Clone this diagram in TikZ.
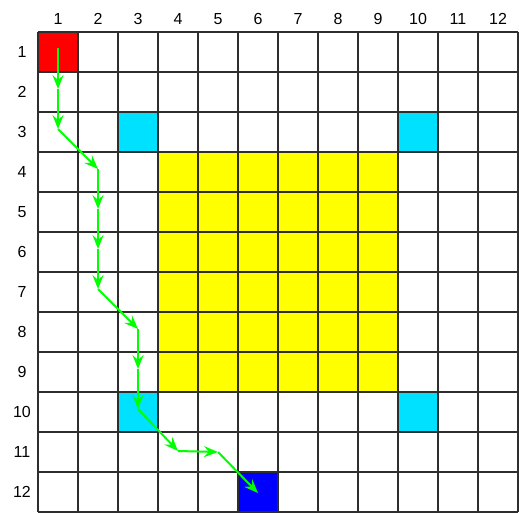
\documentclass[tikz,border=0pt]{standalone}
\usepackage{fontspec}
\setmainfont{Liberation Sans}
\usetikzlibrary{arrows.meta}
\definecolor{cellred}{RGB}{255,0,0}
\definecolor{cellcyan}{RGB}{0,224,255}
\definecolor{cellyellow}{RGB}{255,255,0}
\definecolor{cellblue}{RGB}{0,0,255}
\definecolor{gridgray}{RGB}{45,45,45}
\definecolor{pathgreen}{RGB}{0,255,0}
\tikzset{
  gridline/.style={draw=gridgray, line width=1.2pt},
  lbl/.style={font=\fontsize{16}{16}\selectfont, inner sep=0pt},
  route/.style={draw=pathgreen, line width=2pt, -{Stealth[length=14pt,width=11pt,inset=5pt]}}
}
\begin{document}
\begin{tikzpicture}[x=1pt,y=-1pt]
\useasboundingbox (0,0) rectangle (519,512);
\fill[white] (0,0) rectangle (519,512);
% cell (c,r) spans x 38+40(c-1) .. , y 32+40(r-1)
\newcommand{\cellfill}[3]{\fill[#3] ({38+40*(#1-1)},{32+40*(#2-1)}) rectangle ++(40,40);}
\cellfill{1}{1}{cellred}
\cellfill{3}{3}{cellcyan}
\cellfill{10}{3}{cellcyan}
\cellfill{3}{10}{cellcyan}
\cellfill{10}{10}{cellcyan}
\cellfill{6}{12}{cellblue}
\fill[cellyellow] (158,152) rectangle (398,392);
% grid
\foreach \i in {0,...,12} {
  \draw[gridline] ({38+40*\i},32) -- ({38+40*\i},512);
  \draw[gridline] (38,{32+40*\i}) -- (518,{32+40*\i});
}
% labels
\foreach \i in {1,...,12} {
  \node[lbl] (c\i) at ({58+40*(\i-1)},19) {\i};
  \node[lbl, anchor=center] (r\i) at (22,{52+40*(\i-1)}) {\i};
}
% route
\coordinate (p1) at (58,48);
\coordinate (p2) at (58,89);
\coordinate (p3) at (58,129);
\coordinate (p4) at (98,169);
\coordinate (p5) at (98,209);
\coordinate (p6) at (98,249);
\coordinate (p7) at (98,289);
\coordinate (p8) at (138,329);
\coordinate (p9) at (138,369);
\coordinate (p10) at (138,409);
\coordinate (p11) at (178,451);
\coordinate (p12) at (218,452);
\coordinate (p13) at (258,493);
\foreach \a/\b in {1/2,2/3,3/4,4/5,5/6,6/7,7/8,8/9,9/10,10/11,11/12,12/13} {
  \draw[route] (p\a) -- (p\b);
}
\end{tikzpicture}
\end{document}
